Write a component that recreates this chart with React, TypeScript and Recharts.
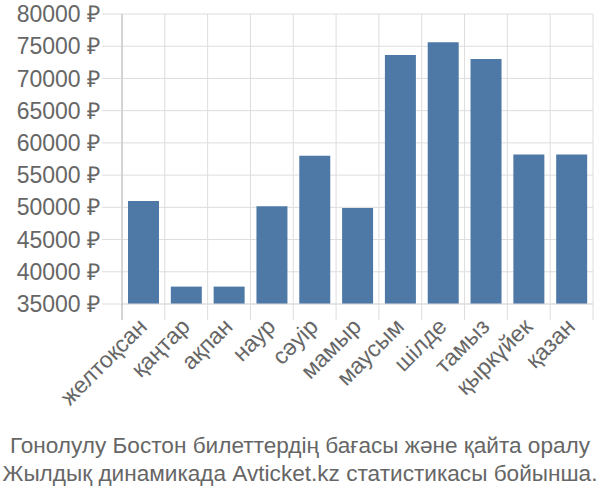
import React from 'react';
import { Bar, BarChart, CartesianGrid, XAxis, YAxis } from 'recharts';

const months = ['желтоқсан', 'қаңтар', 'ақпан', 'наур', 'сәуір', 'мамыр', 'маусым', 'шілде', 'тамыз', 'қыркүйек', 'қазан'];
const prices = [51000, 37700, 37700, 50150, 58000, 49900, 73650, 75600, 73000, 58200, 58200];
const yTicks = [35000, 40000, 45000, 50000, 55000, 60000, 65000, 70000, 75000, 80000];
const titleLines = [
  'Гонолулу Бостон билеттердің бағасы және қайта оралу',
  'Жылдық динамикада Avticket.kz статистикасы бойынша.',
];

const W = 600;
const H = 500;
const LEFT = 122;
const RIGHT = 7;
const FONT = '"Liberation Sans", Arial, sans-serif';
const TEXT = '#666';
const GRID = '#ddd';
const BAND = (W - LEFT - RIGHT) / months.length;

const data = months.map((name, i) => ({ name, value: prices[i] }));

function MonthTick(props: any) {
  const { x, y, payload, index } = props;
  const top = y - 20;
  const left = x - BAND / 2;
  return (
    <g>
      <line x1={left} x2={left} y1={top} y2={top + 16} stroke={index === 0 ? '#aaa' : GRID} />
      {index === months.length - 1 && (
        <line x1={left + BAND} x2={left + BAND} y1={top} y2={top + 16} stroke={GRID} />
      )}
      <text
        x={x + 5}
        y={y + 4}
        textAnchor="end"
        fill={TEXT}
        fontSize={23}
        fontFamily={FONT}
        transform={`rotate(-45 ${x + 5} ${y + 4})`}
      >
        {payload.value}
      </text>
    </g>
  );
}

export default function App() {
  return (
    <div style={{ position: 'absolute', left: 0, top: 0, width: W, height: H, background: '#fff' }}>
      <BarChart
        width={W}
        height={H}
        data={data}
        margin={{ top: 14, right: RIGHT, bottom: 116, left: 0 }}
        barCategoryGap="14%"
      >
        <CartesianGrid
          stroke={GRID}
          verticalCoordinatesGenerator={({ offset }: any) =>
            months.map((_, i) => offset.left + ((i + 1) * offset.width) / months.length)
          }
        />
        <XAxis
          dataKey="name"
          interval={0}
          height={80}
          tickSize={16}
          tickMargin={4}
          tickLine={false}
          axisLine={{ stroke: GRID }}
          tick={<MonthTick />}
        />
        <YAxis
          width={LEFT}
          domain={[35000, 80000]}
          ticks={yTicks}
          interval={0}
          allowDataOverflow
          tickSize={20}
          tickMargin={2}
          tickLine={{ stroke: GRID }}
          axisLine={{ stroke: '#aaa' }}
          tick={{ fill: TEXT, fontSize: 23, fontFamily: FONT }}
          tickFormatter={(v: number) => `${v} ₽`}
        />
        <Bar dataKey="value" fill="#4e79a7" isAnimationActive={false} />
      </BarChart>
      <div
        style={{
          position: 'absolute',
          left: 0,
          top: 432,
          width: W,
          textAlign: 'center',
          fontFamily: FONT,
          fontSize: 22.6,
          lineHeight: '28px',
          color: TEXT,
          whiteSpace: 'nowrap',
        }}
      >
        {titleLines.map((t) => (
          <div key={t}>{t}</div>
        ))}
      </div>
    </div>
  );
}
